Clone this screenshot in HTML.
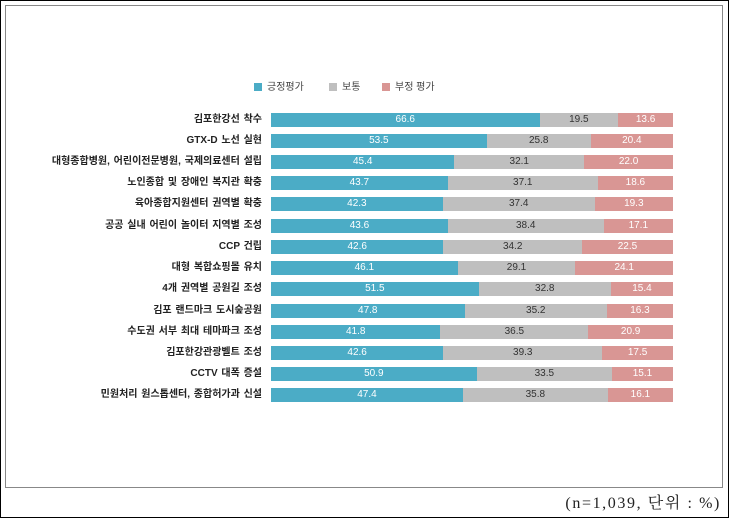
<!DOCTYPE html><html><head><meta charset="utf-8"><style>
body{margin:0;width:729px;height:518px;background:#fff;position:relative;overflow:hidden;font-family:"Liberation Sans","Noto Sans CJK KR",sans-serif}
.outer{position:absolute;left:0;top:0;width:727px;height:516px;border:1px solid #000}
.inner{position:absolute;left:5px;top:5px;width:716px;height:481px;border:1px solid #888}
.lab{position:absolute;right:467px;font-size:10px;font-weight:bold;color:#222;white-space:nowrap;line-height:14px;word-spacing:1px}
.bar{position:absolute;height:14px;font-size:10px;text-align:center;line-height:14px}
.p{background:#4bacc6;color:#fff}.m{background:#bfbfbf;color:#333}.n{background:#d99694;color:#fff}
.lg{position:absolute;top:82px;font-size:10px;color:#444;line-height:11px}
.lg i{display:inline-block;width:8px;height:8px;margin-right:5px;vertical-align:-1px}
.note{position:absolute;right:8px;top:490px;font-family:"Liberation Serif","Noto Serif CJK SC",serif;font-size:16px;letter-spacing:1.6px;color:#222}
</style></head><body>
<div class="outer"></div><div class="inner"></div>
<div class="lg" style="left:254px"><i style="background:#4bacc6"></i>긍정평가</div>
<div class="lg" style="left:329px"><i style="background:#bfbfbf"></i>보통</div>
<div class="lg" style="left:382px"><i style="background:#d99694"></i>부정 평가</div>
<div id="c"></div>
<div class="note">(n=1,039, 단위 : %)</div>
<script>
var d=[["김포한강선 착수",66.6,19.5,13.6],["GTX-D 노선 실현",53.5,25.8,20.4],["대형종합병원, 어린이전문병원, 국제의료센터 설립",45.4,32.1,22.0],["노인종합 및 장애인 복지관 확충",43.7,37.1,18.6],["육아종합지원센터 권역별 확충",42.3,37.4,19.3],["공공 실내 어린이 놀이터 지역별 조성",43.6,38.4,17.1],["CCP 건립",42.6,34.2,22.5],["대형 복합쇼핑몰 유치",46.1,29.1,24.1],["4개 권역별 공원길 조성",51.5,32.8,15.4],["김포 랜드마크 도시숲공원",47.8,35.2,16.3],["수도권 서부 최대 테마파크 조성",41.8,36.5,20.9],["김포한강관광벨트 조성",42.6,39.3,17.5],["CCTV 대폭 증설",50.9,33.5,15.1],["민원처리 원스톱센터, 종합허가과 신설",47.4,35.8,16.1]];
var h="",L=271,W=402;
d.forEach(function(r,i){var t=112.5+i*21.23,s=r[1]+r[2]+r[3],x=L;
h+='<div class="lab" style="top:'+t+'px">'+r[0]+'</div>';
["p","m","n"].forEach(function(c,k){var w=W*r[k+1]/s;h+='<div class="bar '+c+'" style="left:'+x+'px;top:'+t+'px;width:'+w+'px">'+r[k+1].toFixed(1)+'</div>';x+=w;});});
document.getElementById("c").innerHTML=h;
</script></body></html>
